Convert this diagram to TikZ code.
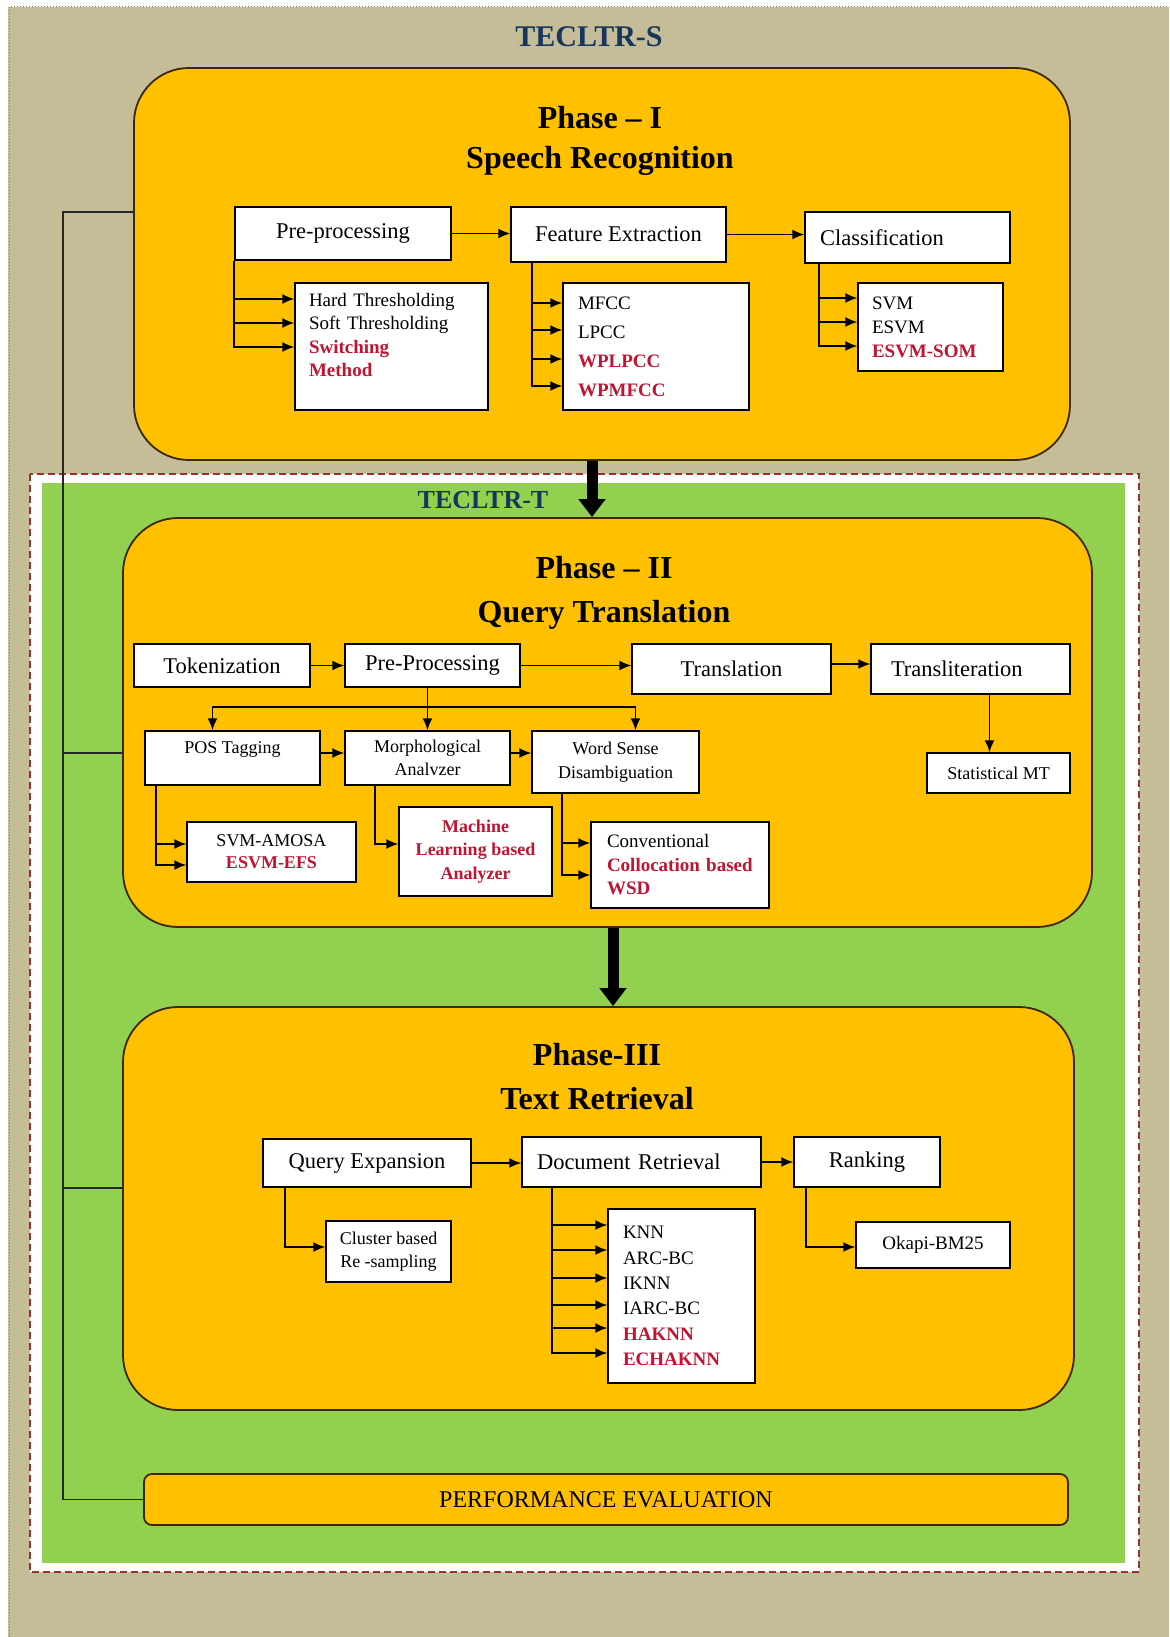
\documentclass[tikz,border=0pt]{standalone}
\usepackage{fontspec}
\setmainfont{Liberation Serif}
\usetikzlibrary{arrows.meta}
\definecolor{tanbg}{RGB}{197,188,152}
\definecolor{phasefill}{RGB}{255,192,0}
\definecolor{phaseline}{RGB}{60,40,10}
\definecolor{greenbg}{RGB}{146,208,80}
\definecolor{dashred}{RGB}{150,50,50}
\definecolor{navytxt}{RGB}{23,54,93}
\definecolor{redtxt}{RGB}{192,20,50}
\newcommand{\redterm}[1]{\textcolor{redtxt}{\textbf{#1}}}
\tikzset{
  phase/.style={draw=phaseline, fill=phasefill, line width=1.8pt, rounded corners=55pt},
  stepbox/.style={draw=black, fill=white, line width=1.4pt, inner sep=3pt, font=\fontsize{22.5}{27}\selectfont},
  subbox/.style={draw=black, fill=white, line width=1.4pt, inner sep=3pt, font=\fontsize{19}{23.5}\selectfont},
  conn/.style={line width=1.8pt, -{Latex[length=12pt,width=10pt]}},
  bus/.style={line width=1.6pt, draw=black!85},
  bigarrow/.style={line width=11pt, -{Triangle[length=18pt,width=26pt]}},
  phasetitle/.style={font=\fontsize{32}{40}\selectfont\bfseries, align=center},
}

\begin{document}
\begin{tikzpicture}[x=1pt,y=-1pt]
    \useasboundingbox (0,0) rectangle (1169,1637);
    \fill[white] (0,0) rectangle (1169,1637);
    \fill[tanbg] (8,7) rectangle (1169,1637);
    \draw[gray, dotted, line width=1pt] (9,1637) -- (9,7) -- (1169,7);
    \draw[dashred, dash pattern=on 7pt off 4pt, line width=2pt, fill=white] (30,474) rectangle (1139,1572);
    \fill[greenbg] (42,483) rectangle (1125,1563);

    \node[font=\fontsize{30}{30}\selectfont\bfseries, text=navytxt] (sysS) at (589,37) {TECLTR-S};
    \node[font=\fontsize{26}{26}\selectfont\bfseries, text=navytxt] (sysT) at (483,500) {TECLTR-T};

    \node[phase, minimum width=936, minimum height=392] (ph1) at (602,264) {};
    \node[phasetitle] (ph1title) at (600,141) {Phase – I\\Speech Recognition};
    \node[stepbox, minimum width=216, minimum height=53] (pp) at (343,233.5) {Pre-processing};
    \node[stepbox, minimum width=215, minimum height=55] (fe) at (618.5,234.5) {Feature Extraction};
    \node[stepbox, minimum width=205, minimum height=51, align=left, text width=175, inner xsep=15] (cls) at (907.5,237.5) {Classification};
    \node[subbox, minimum width=193, minimum height=127, align=left, text width=165, inner xsep=14] (ppsub) at (391.5,346.5) {Hard Thresholding\\Soft Thresholding\\\redterm{Switching}\\\redterm{Method}\\\mbox{}};
    \node[subbox, minimum width=186, minimum height=127, align=left, text width=156, inner xsep=15, font=\fontsize{19}{29}\selectfont] (fesub) at (656,346.5) {MFCC\\LPCC\\\redterm{WPLPCC}\\\redterm{WPMFCC}};
    \node[subbox, minimum width=145, minimum height=88, align=left, text width=117, inner xsep=14, font=\fontsize{19}{24}\selectfont] (clssub) at (930.5,327) {SVM\\ESVM\\\redterm{ESVM-SOM}};

    \draw[conn] (pp.east) -- (fe.west |- pp.east);
    \draw[conn] (fe.east) -- (cls.west |- fe.east);
    \foreach \dy in {47.5,23.5,-0.5}
        \draw[conn] (pp.south west) |- ([yshift=\dy]ppsub.west);
    \foreach \dy in {43.5,16.5,-12.5,-39.5}
        \draw[conn] ([xshift=22]fe.south west) |- ([yshift=\dy]fesub.west);
    \foreach \dy in {29,5,-19}
        \draw[conn] ([xshift=15]cls.south west) |- ([yshift=\dy]clssub.west);

    \node[phase, minimum width=969, minimum height=409] (ph2) at (607.5,722.5) {};
    \node[phasetitle, font=\fontsize{32}{44}\selectfont\bfseries] (ph2title) at (604,593) {Phase – II\\Query Translation};
    \node[stepbox, minimum width=176, minimum height=43] (tok) at (222,665.5) {Tokenization};
    \node[stepbox, minimum width=175, minimum height=43] (prep) at (432.5,665.5) {Pre-Processing};
    \node[stepbox, minimum width=199, minimum height=50] (trans) at (731.5,669) {Translation};
    \node[stepbox, minimum width=199, minimum height=50, align=left, text width=159, inner xsep=20] (translit) at (970.5,669) {Transliteration};
    \node[subbox, minimum width=175, minimum height=54, align=center, font=\fontsize{18}{20}\selectfont] (pos) at (232.5,758) {POS Tagging\\\mbox{}};
    \node[subbox, minimum width=165, minimum height=54, align=center, font=\fontsize{18}{23}\selectfont] (morph) at (427.5,758) {Morphological\\Analvzer};
    \node[subbox, minimum width=167, minimum height=62, align=center, font=\fontsize{18}{24}\selectfont] (wsd) at (615.5,762) {Word Sense\\Disambiguation};
    \node[subbox, minimum width=143, minimum height=40, font=\fontsize{18}{18}\selectfont] (smt) at (998.5,773) {Statistical MT};
    \node[subbox, minimum width=169, minimum height=60, align=center, font=\fontsize{18}{22}\selectfont] (possub) at (271.5,852) {SVM-AMOSA\\\redterm{ESVM-EFS}};
    \node[subbox, minimum width=153, minimum height=89, align=center, font=\fontsize{18}{23.5}\selectfont] (morphsub) at (475.5,851.5) {\redterm{Machine}\\\redterm{Learning based}\\\redterm{Analyzer}};
    \node[subbox, minimum width=178, minimum height=86, align=left, text width=146, inner xsep=16] (wsdsub) at (680,865) {Conventional\\\redterm{Collocation based}\\\redterm{WSD}};

    \coordinate (fork) at (427,707);
    \coordinate (smtin) at ([xshift=19]translit.south);
    \draw[conn] (tok.east) -- (prep.west);
    \draw[conn] (prep.east) -- (trans.west |- prep.east);
    \draw[conn] ([yshift=5]trans.east) -- ([yshift=5]translit.west);
    \draw[conn] (smtin) -- (smtin |- smt.north);
    \draw[conn] (prep.south -| morph.north) -- (morph.north);
    \draw[conn] (fork) -| ([xshift=-20]pos.north);
    \draw[conn] (fork) -| ([xshift=20]wsd.north);
    \draw[conn] ([yshift=5]pos.east) -- ([yshift=5]morph.west);
    \draw[conn] ([yshift=5]morph.east) -- ([yshift=9]wsd.west);
    \foreach \dy in {8,-13}
        \draw[conn] ([xshift=12]pos.south west) |- ([yshift=\dy]possub.west);
    \draw[conn] ([xshift=31]morph.south west) |- ([yshift=7.5]morphsub.west);
    \foreach \dy in {22,-10}
        \draw[conn] ([xshift=31]wsd.south west) |- ([yshift=\dy]wsdsub.west);

    \node[phase, minimum width=951, minimum height=403] (ph3) at (598.5,1208.5) {};
    \node[phasetitle, font=\fontsize{32}{44}\selectfont\bfseries] (ph3title) at (597,1077) {Phase-III\\Text Retrieval};
    \node[stepbox, minimum width=208, minimum height=48] (qe) at (367,1163) {Query Expansion};
    \node[stepbox, minimum width=239, minimum height=50, align=left, text width=209, inner xsep=15] (dr) at (641.5,1162) {Document Retrieval};
    \node[stepbox, minimum width=146, minimum height=50] (rank) at (867,1162) {Ranking};
    \node[subbox, minimum width=125, minimum height=61, align=center, font=\fontsize{18}{23}\selectfont] (qesub) at (388.5,1251.5) {Cluster based\\Re -sampling};
    \node[subbox, minimum width=147, minimum height=174, align=left, text width=117, inner xsep=15, font=\fontsize{19}{25.4}\selectfont] (drsub) at (681.5,1296) {KNN\\ARC-BC\\IKNN\\IARC-BC\\\redterm{HAKNN}\\\redterm{ECHAKNN}};
    \node[subbox, minimum width=154, minimum height=46] (ranksub) at (933,1245) {Okapi-BM25};

    \draw[conn] (qe.east) -- (dr.west |- qe.east);
    \draw[conn] (dr.east) -- (rank.west);
    \draw[conn] ([xshift=23]qe.south west) |- ([yshift=4.5]qesub.west);
    \foreach \dy in {71,46,18,-9,-32,-57}
        \draw[conn] ([xshift=31]dr.south west) |- ([yshift=\dy]drsub.west);
    \draw[conn] ([xshift=13]rank.south west) |- ([yshift=-2]ranksub.west);

    \node[phase, rounded corners=8pt, minimum width=924, minimum height=51, font=\fontsize{24}{24}\selectfont] (perf) at (606,1499.5) {PERFORMANCE EVALUATION};

    \coordinate (bustop) at (63,212);
    \draw[bus] ([yshift=52]ph1.west) -- (bustop) |- (perf.west);
    \draw[bus] ([yshift=-30.5]ph2.west) -- ++(-60,0);
    \draw[bus] ([yshift=20.5]ph3.west) -- ++(-60,0);

    \coordinate (a12) at ([xshift=-10]ph1.south);
    \coordinate (a23) at ([xshift=5.5]ph2.south);
    \draw[bigarrow] (a12) -- (a12 |- ph2.north);
    \draw[bigarrow] (a23) -- (a23 |- ph3.north);
\end{tikzpicture}
\end{document}
